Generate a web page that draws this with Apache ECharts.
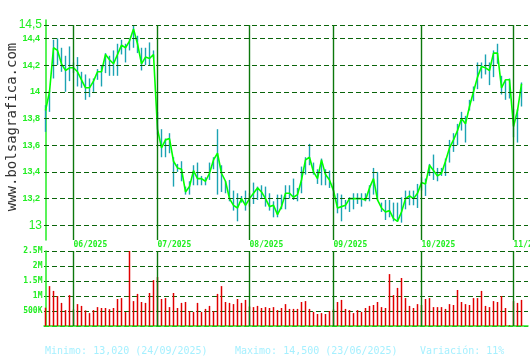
<!DOCTYPE html>
<html><head><meta charset="utf-8">
<script src="https://cdn.jsdelivr.net/npm/echarts@6/dist/echarts.min.js"></script>
<style>html,body{margin:0;padding:0;background:#fff}#c{width:530px;height:360px}</style>
</head><body><div id="c"></div>
<script>
const dates = [
'22/05/2025','23/05/2025','26/05/2025','27/05/2025','28/05/2025','29/05/2025','30/05/2025',
'02/06/2025','03/06/2025','04/06/2025','05/06/2025','06/06/2025','09/06/2025','10/06/2025','11/06/2025','12/06/2025','13/06/2025','16/06/2025','17/06/2025','18/06/2025','19/06/2025','20/06/2025','23/06/2025','24/06/2025','25/06/2025','26/06/2025','27/06/2025','30/06/2025',
'01/07/2025','02/07/2025','03/07/2025','04/07/2025','07/07/2025','08/07/2025','09/07/2025','10/07/2025','11/07/2025','14/07/2025','15/07/2025','16/07/2025','17/07/2025','18/07/2025','21/07/2025','22/07/2025','23/07/2025','24/07/2025','25/07/2025','28/07/2025','29/07/2025','30/07/2025','31/07/2025',
'01/08/2025','04/08/2025','05/08/2025','06/08/2025','07/08/2025','08/08/2025','11/08/2025','12/08/2025','13/08/2025','14/08/2025','15/08/2025','18/08/2025','19/08/2025','20/08/2025','21/08/2025','22/08/2025','25/08/2025','26/08/2025','27/08/2025','28/08/2025','29/08/2025',
'01/09/2025','02/09/2025','03/09/2025','04/09/2025','05/09/2025','08/09/2025','09/09/2025','10/09/2025','11/09/2025','12/09/2025','15/09/2025','16/09/2025','17/09/2025','18/09/2025','19/09/2025','22/09/2025','23/09/2025','24/09/2025','25/09/2025','26/09/2025','29/09/2025','30/09/2025',
'01/10/2025','02/10/2025','03/10/2025','06/10/2025','07/10/2025','08/10/2025','09/10/2025','10/10/2025','13/10/2025','14/10/2025','15/10/2025','16/10/2025','17/10/2025','20/10/2025','21/10/2025','22/10/2025','23/10/2025','24/10/2025','27/10/2025','28/10/2025','29/10/2025','30/10/2025','31/10/2025',
'03/11/2025','04/11/2025','05/11/2025'
];
const closes = [
13.86,14.00,14.33,14.31,14.21,14.16,14.18,14.18,14.15,14.09,
14.03,14.03,14.08,14.15,14.15,14.28,14.24,14.21,14.28,14.35,
14.33,14.38,14.47,14.36,14.21,14.26,14.25,14.28,13.72,13.58,
13.64,13.65,13.48,13.43,13.42,13.25,13.29,13.41,13.35,13.35,
13.33,13.39,13.49,13.54,13.39,13.33,13.20,13.15,13.13,13.20,
13.15,13.20,13.24,13.28,13.25,13.20,13.14,13.15,13.08,13.14,
13.24,13.24,13.21,13.23,13.34,13.49,13.51,13.40,13.35,13.49,
13.38,13.34,13.26,13.13,13.14,13.15,13.20,13.20,13.20,13.20,
13.19,13.28,13.35,13.19,13.13,13.10,13.11,13.05,13.03,13.10,
13.20,13.22,13.20,13.24,13.32,13.31,13.45,13.41,13.37,13.39,
13.48,13.58,13.64,13.71,13.80,13.76,13.89,14.00,14.11,14.19,
14.18,14.16,14.29,14.29,14.03,14.09,14.09,13.74,13.86,14.06
];
const highs = [
13.90,14.01,14.39,14.40,14.33,14.27,14.34,14.22,14.26,14.15,
14.13,14.10,14.10,14.17,14.20,14.29,14.27,14.31,14.36,14.39,
14.36,14.40,14.50,14.42,14.33,14.33,14.37,14.31,13.85,13.72,
13.65,13.69,13.51,13.46,13.48,13.29,13.33,13.45,13.47,13.37,
13.36,13.47,13.51,13.72,13.45,13.33,13.34,13.26,13.24,13.22,
13.26,13.24,13.32,13.29,13.30,13.29,13.24,13.18,13.23,13.23,
13.30,13.30,13.35,13.28,13.44,13.51,13.61,13.47,13.42,13.50,
13.42,13.41,13.32,13.24,13.23,13.19,13.21,13.24,13.24,13.24,
13.24,13.30,13.43,13.40,13.17,13.19,13.19,13.17,13.17,13.21,
13.26,13.26,13.26,13.31,13.36,13.35,13.46,13.53,13.43,13.43,
13.50,13.64,13.69,13.76,13.85,13.82,13.94,14.04,14.22,14.22,
14.28,14.22,14.31,14.36,14.12,14.09,14.10,13.87,13.87,14.07
];
const lows = [
13.70,13.85,14.10,14.20,14.15,14.00,14.08,14.14,14.04,14.03,
13.94,13.96,14.00,14.09,14.04,14.14,14.12,14.12,14.12,14.28,
14.22,14.31,14.33,14.29,14.16,14.20,14.20,14.25,13.68,13.51,
13.51,13.54,13.29,13.40,13.33,13.23,13.23,13.30,13.30,13.30,
13.30,13.34,13.42,13.23,13.25,13.24,13.18,13.11,13.03,13.17,
13.11,13.14,13.16,13.19,13.20,13.14,13.11,13.06,13.06,13.12,
13.12,13.20,13.19,13.18,13.24,13.38,13.45,13.38,13.31,13.30,
13.30,13.28,13.22,13.09,13.03,13.12,13.10,13.12,13.16,13.14,
13.18,13.18,13.23,13.19,13.10,13.04,13.06,13.03,13.03,13.02,
13.12,13.15,13.15,13.13,13.26,13.22,13.37,13.34,13.33,13.37,
13.37,13.47,13.55,13.60,13.71,13.62,13.86,13.93,14.02,14.10,
14.13,14.05,14.11,14.21,13.98,13.94,13.95,13.66,13.62,13.89
];
const volumes = [
610000,1330000,1170000,1000000,770000,530000,1030000,550000,730000,670000,
520000,430000,530000,630000,600000,600000,560000,600000,900000,930000,
470000,2530000,830000,1070000,800000,770000,1100000,1530000,1630000,900000,
930000,630000,1100000,600000,770000,800000,500000,470000,770000,470000,
570000,670000,500000,1070000,1330000,800000,770000,730000,900000,770000,
870000,650000,630000,670000,600000,630000,600000,630000,530000,600000,
730000,570000,570000,570000,800000,830000,570000,470000,400000,430000,
400000,500000,550000,800000,870000,570000,530000,430000,530000,470000,
600000,670000,700000,800000,630000,600000,1730000,1030000,1270000,1600000,
930000,670000,600000,730000,700000,900000,930000,630000,630000,630000,
570000,730000,700000,1200000,800000,730000,700000,930000,930000,1170000,
670000,630000,830000,800000,1000000,600000,30000,830000,770000,870000
];
const priceTicks = [13,13.2,13.4,13.6,13.8,14,14.2,14.4,14.5];
const volumeTicks = [0,500000,1000000,1500000,2000000,2500000];
const volumeTickLabels = ['','500K','1M','1.5M','2M','2.5M'];

const GREEN = '#22ee22', DASH = '#0a640a', MONTH = '#0c780c', CYAN = '#1ba3b3', RED = '#e00000';
const X_MIN = -0.375, X_MAX = 120.625, P_MIN = 12.89, P_MAX = 14.538;

const monthStarts = [];
dates.forEach((d, i) => { if (i > 0 && d.slice(3, 5) !== dates[i - 1].slice(3, 5)) monthStarts.push(i); });

let minIdx = 0, maxIdx = 0;
lows.forEach((v, i) => { if (v < lows[minIdx]) minIdx = i; });
highs.forEach((v, i) => { if (v > highs[maxIdx]) maxIdx = i; });
const minV = lows[minIdx], maxV = highs[maxIdx];
const fmt3 = v => v.toFixed(3).replace('.', ',');
const variation = Math.round((maxV - minV) / minV * 100);

const chart = echarts.init(document.getElementById('c'), null, {renderer: 'canvas'});
const mono = 'DejaVu Sans Mono';
chart.setOption({
  animation: false,
  backgroundColor: '#ffffff',
  grid: [
    {left: 44, right: 2, top: 20, height: 220, outerBoundsMode: 'none', containLabel: false},
    {left: 44, right: 2, top: 251, height: 75, outerBoundsMode: 'none', containLabel: false}
  ],
  xAxis: [
    {gridIndex: 0, type: 'value', min: X_MIN, max: X_MAX,
     axisLine: {show: false}, axisTick: {show: false}, splitLine: {show: false},
     axisLabel: {customValues: monthStarts, formatter: v => dates[Math.round(v)].slice(3),
       align: 'left', margin: 1, color: GREEN, fontSize: 8, fontWeight: 'bold', fontFamily: mono, hideOverlap: false}},
    {gridIndex: 1, type: 'value', min: X_MIN, max: X_MAX,
     axisLine: {show: true, onZero: false, lineStyle: {color: GREEN, width: 1.5}},
     axisTick: {show: false}, splitLine: {show: false}, axisLabel: {show: false}}
  ],
  yAxis: [
    {gridIndex: 0, type: 'value', min: P_MIN, max: P_MAX,
     axisLine: {show: true, lineStyle: {color: GREEN, width: 1.5}},
     axisTick: {show: false}, splitLine: {show: false},
     axisLabel: {customValues: priceTicks, margin: 2,
       formatter: v => {
         const t = String(+v.toFixed(1)).replace('.', ',');
         const big = Math.abs(v - priceTicks[0]) < 1e-6 || Math.abs(v - priceTicks[priceTicks.length - 1]) < 1e-6;
         return big ? '{big|' + t + '}' : '{small|' + t + '}';
       },
       rich: {
         big: {color: GREEN, fontSize: 12, fontFamily: 'Liberation Sans'},
         small: {color: GREEN, fontSize: 9, fontWeight: 'bold', fontFamily: 'Liberation Sans', padding: [0, 2, 0, 0]}
       }}},
    {gridIndex: 1, type: 'value', min: volumeTicks[0], max: volumeTicks[volumeTicks.length - 1], interval: volumeTicks[1],
     axisLine: {show: true, lineStyle: {color: GREEN, width: 1.5}},
     axisTick: {show: false},
     splitLine: {show: true, lineStyle: {color: DASH, type: [5, 3], width: 1.2}},
     axisLabel: {margin: 1.5, color: GREEN, fontSize: 8, fontWeight: 'bold', fontFamily: mono,
       formatter: v => { const k = volumeTicks.indexOf(v); return k >= 0 ? volumeTickLabels[k] : ''; }}}
  ],
  series: [
    {type: 'line', xAxisIndex: 0, yAxisIndex: 0, z: 1, silent: true,
     data: closes.map((c, i) => [i, c]), symbol: 'none', lineStyle: {opacity: 0},
     markLine: {silent: true, symbol: ['none', 'none'], label: {show: false}, animation: false,
       data: priceTicks.map(v => ({yAxis: v, lineStyle: {color: DASH, type: [5, 3], width: 1.2}}))
         .concat(monthStarts.map(i => [
           {coord: [i, priceTicks[priceTicks.length - 1]], lineStyle: {color: MONTH, type: 'solid', width: 1.4}},
           {coord: [i, P_MIN]}
         ]))}},
    {type: 'custom', xAxisIndex: 0, yAxisIndex: 0, z: 2,
     data: highs.map((h, i) => [i, lows[i], h]),
     renderItem: (params, api) => {
       const x = api.value(0);
       const p1 = api.coord([x, api.value(1)]);
       const p2 = api.coord([x, api.value(2)]);
       return {type: 'line', shape: {x1: p1[0], y1: p1[1], x2: p2[0], y2: p2[1]},
               style: {stroke: CYAN, lineWidth: 1.4}};
     }},
    {type: 'line', xAxisIndex: 0, yAxisIndex: 0, z: 3,
     data: closes.map((c, i) => [i, c]), symbol: 'none',
     lineStyle: {color: '#00ff00', width: 1.6}},
    {type: 'bar', xAxisIndex: 1, yAxisIndex: 1, z: 2,
     data: volumes.map((v, i) => [i, v]), barWidth: 1.5,
     itemStyle: {color: RED},
     markLine: {silent: true, symbol: ['none', 'none'], label: {show: false}, animation: false,
       lineStyle: {color: MONTH, type: 'solid', width: 1.4},
       data: monthStarts.map(i => ({xAxis: i}))}}
  ],
  graphic: [
    {type: 'text', x: 12, y: 127, rotation: Math.PI / 2,
     style: {text: 'www.bolsagrafica.com', fill: '#333333', font: '14px "DejaVu Sans Mono"', align: 'center', verticalAlign: 'middle'}},
    {type: 'text', x: 45, y: 351,
     style: {text: 'Minimo: ' + fmt3(minV) + ' (' + dates[minIdx] + ')', fill: '#a6f0ff', font: '10px "DejaVu Sans Mono"', verticalAlign: 'middle'}},
    {type: 'text', x: 235, y: 351,
     style: {text: 'Maximo: ' + fmt3(maxV) + ' (' + dates[maxIdx] + ')', fill: '#a6f0ff', font: '10px "DejaVu Sans Mono"', verticalAlign: 'middle'}},
    {type: 'text', x: 420, y: 351,
     style: {text: 'Variación: ' + variation + '%', fill: '#a6f0ff', font: '10px "DejaVu Sans Mono"', verticalAlign: 'middle'}}
  ]
});
</script>
</body></html>
